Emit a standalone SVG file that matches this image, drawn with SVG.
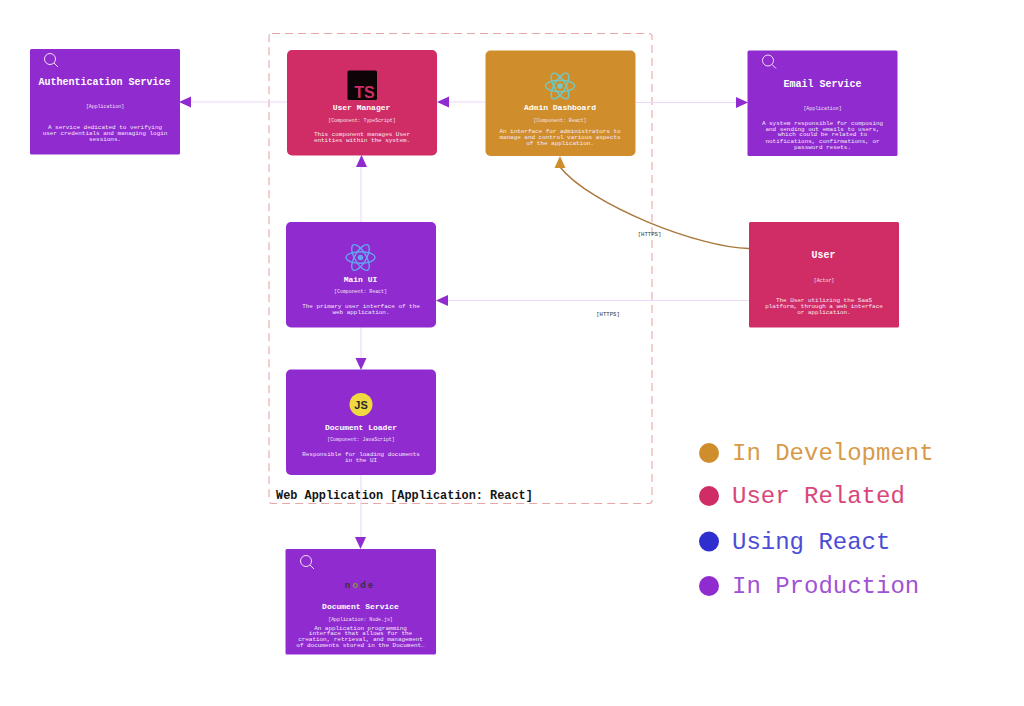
<svg xmlns="http://www.w3.org/2000/svg" width="1024" height="706" viewBox="0 0 1024 706">
<style>
text{font-family:"Liberation Mono","DejaVu Sans Mono",monospace;text-anchor:middle;fill:#fff}
.t{font-size:10px;font-weight:700}
.s{font-size:8px;font-weight:700}
.g{font-size:4.9px;fill:#f3e3f5}
.d{font-size:5.95px;fill:#f8e8f8}
.r{fill:#8f2bcf}.p{fill:#d02d66}.o{fill:#cf8e2b}
.l{fill:none;stroke:#ecd8fb;stroke-width:1.1}
.h{fill:#8f2bcf}
.lg{font-size:24px;text-anchor:start}
.m{fill:none;stroke:#f3def5;stroke-width:1}
.e{font-size:5.6px;fill:#333}
</style>
<defs>
<g id="atom" fill="none" stroke-width="1.4">
<ellipse rx="14.5" ry="5.7"/>
<ellipse rx="14.5" ry="5.7" transform="rotate(60)"/>
<ellipse rx="14.5" ry="5.7" transform="rotate(120)"/>
</g>
<g id="mag"><circle cx="-1" cy="-1" r="5.5" class="m"/><path d="M3 3L7 7" class="m"/></g>
</defs>

<rect x="269" y="33.500" width="383" height="470" rx="3" fill="none" stroke="#e8a7a6" stroke-width="1.100" stroke-dasharray="8 5"/>
<text x="276" y="499" style="font-size:11.900px;font-weight:700;text-anchor:start;fill:#141414">Web Application [Application: React]</text>

<g id="connectors">
<path class="l" d="M287 102H191"/><path class="h" d="M179 102L191 96.500V107.500Z"/>
<path class="l" d="M485 102H449"/><path class="h" d="M437 102L449 96.500V107.500Z"/>
<path class="l" d="M636 102.500H736"/><path class="h" d="M748 102.500L736 97V108Z"/>
<path class="l" d="M361 222V167"/><path class="h" d="M361.500 155L356 167H367Z"/>
<path class="l" d="M361 327V358"/><path class="h" d="M361 370L355.500 358H366.500Z"/>
<path class="l" d="M361 475V537"/><path class="h" d="M360.500 549L355 537H366Z"/>
<path class="l" d="M749 300.500H448"/><path class="h" d="M436 300.500L448 295V306Z"/>
<path d="M749 248.500C700 248 590 205 560 167" fill="none" stroke="#a9773b" stroke-width="1.400"/>
<path class="o" d="M560 156L554.500 168H565.500Z"/>
<text class="e" x="649.500" y="236">[HTTPS]</text>
<text class="e" x="608" y="316">[HTTPS]</text>
</g>

<g id="authentication-service">
<rect class="r" x="30" y="49" width="150" height="105.500" rx="1.500"/>
<use href="#mag" x="51" y="60"/>
<text class="t" x="104.500" y="85">Authentication Service</text>
<text class="g" x="105" y="108">[Application]</text>
<text class="d" x="105" y="129">A service dedicated to verifying</text>
<text class="d" x="105" y="135">user credentials and managing login</text>
<text class="d" x="105" y="141">sessions.</text>
</g>

<g id="user-manager">
<rect class="p" x="287" y="50" width="150" height="105.500" rx="5"/>
<rect x="347.500" y="70.500" width="29.500" height="29.500" rx="1.500" fill="#0c0407"/>
<text x="364.500" y="98" style="font-size:16px;font-weight:700;font-family:'Liberation Sans',sans-serif;fill:#d02d66">TS</text>
<text class="s" x="361.500" y="109.500">User Manager</text>
<text class="g" x="362" y="121.500">[Component: TypeScript]</text>
<text class="d" x="362" y="136">This component manages User</text>
<text class="d" x="362" y="142">entities within the system.</text>
</g>

<g id="admin-dashboard">
<rect class="o" x="485.500" y="50.500" width="150" height="105.500" rx="5"/>
<use href="#atom" x="560" y="86" stroke="#70c9c4"/>
<circle cx="560" cy="86" r="2.800" fill="#70c9c4"/>
<text class="s" x="560" y="110">Admin Dashboard</text>
<text class="g" x="560" y="121.500">[Component: React]</text>
<text class="d" x="560" y="133">An interface for administrators to</text>
<text class="d" x="560" y="139">manage and control various aspects</text>
<text class="d" x="560" y="145">of the application.</text>
</g>

<g id="email-service">
<rect class="r" x="747.500" y="50.500" width="150" height="105.500" rx="1.500"/>
<use href="#mag" x="769" y="61.500"/>
<text class="t" x="822.500" y="87">Email Service</text>
<text class="g" x="822.500" y="109.500">[Application]</text>
<text class="d" x="822.500" y="124.500">A system responsible for composing</text>
<text class="d" x="822.500" y="130.500">and sending out emails to users,</text>
<text class="d" x="822.500" y="136">which could be related to</text>
<text class="d" x="822.500" y="142.500">notifications, confirmations, or</text>
<text class="d" x="822.500" y="148.500">password resets.</text>
</g>

<g id="main-ui">
<rect class="r" x="286" y="222" width="150" height="105.500" rx="5"/>
<use href="#atom" x="360.500" y="257.500" stroke="#63a5ef"/>
<circle cx="360.500" cy="257.500" r="2.800" fill="#63a5ef"/>
<text class="s" x="360.500" y="281.500">Main UI</text>
<text class="g" x="360.500" y="293">[Component: React]</text>
<text class="d" x="361" y="308">The primary user interface of the</text>
<text class="d" x="361" y="314">web application.</text>
</g>

<g id="user">
<rect class="p" x="749" y="222" width="150" height="105.500" rx="1.500"/>
<text class="t" x="823.500" y="258">User</text>
<text class="g" x="824" y="281.500">[Actor]</text>
<text class="d" x="824" y="302">The User utilizing the SaaS</text>
<text class="d" x="824" y="308">platform, through a web interface</text>
<text class="d" x="824" y="314">or application.</text>
</g>

<g id="document-loader">
<rect class="r" x="286" y="369.500" width="150" height="105.500" rx="5"/>
<circle cx="361" cy="404.500" r="11.500" fill="#f0d840"/>
<text x="361" y="408.500" style="font-size:11px;font-weight:700;font-family:'Liberation Sans',sans-serif;fill:#2a2a2a">JS</text>
<text class="s" x="361" y="429.500">Document Loader</text>
<text class="g" x="361" y="441">[Component: JavaScript]</text>
<text class="d" x="361" y="456">Responsible for loading documents</text>
<text class="d" x="361" y="461.500">in the UI</text>
</g>

<g id="document-service">
<rect class="r" x="285.500" y="549" width="150.500" height="105.500" rx="1.500"/>
<use href="#mag" x="307" y="562"/>
<text x="360" y="587.500" style="font-size:9px;font-weight:700;letter-spacing:2.200px;font-family:'Liberation Sans',sans-serif;fill:#3a2f3a"><tspan>n</tspan><tspan fill="#7f9a3a">o</tspan><tspan>d</tspan><tspan>e</tspan></text>
<text class="s" x="360.500" y="608.500">Document Service</text>
<text class="g" x="360.500" y="620.500">[Application: Node.js]</text>
<text class="d" x="360.500" y="629.500">An application programming</text>
<text class="d" x="360.500" y="635">interface that allows for the</text>
<text class="d" x="360.500" y="641">creation, retrieval, and management</text>
<text class="d" x="360.500" y="647">of documents stored in the Document…</text>
</g>

<g id="legend">
<circle cx="709" cy="453" r="10" fill="#cf8e2b"/>
<text class="lg" x="732" y="460" style="fill:#d89a47">In Development</text>
<circle cx="709" cy="496" r="10" fill="#d02d66"/>
<text class="lg" x="732" y="503" style="fill:#d8467a">User Related</text>
<circle cx="709" cy="541.500" r="10" fill="#2f2fcf"/>
<text class="lg" x="732" y="549" style="fill:#4c4cd6">Using React</text>
<circle cx="709" cy="586" r="10" fill="#8f2bcf"/>
<text class="lg" x="732" y="593" style="fill:#a051d6">In Production</text>
</g>
</svg>
